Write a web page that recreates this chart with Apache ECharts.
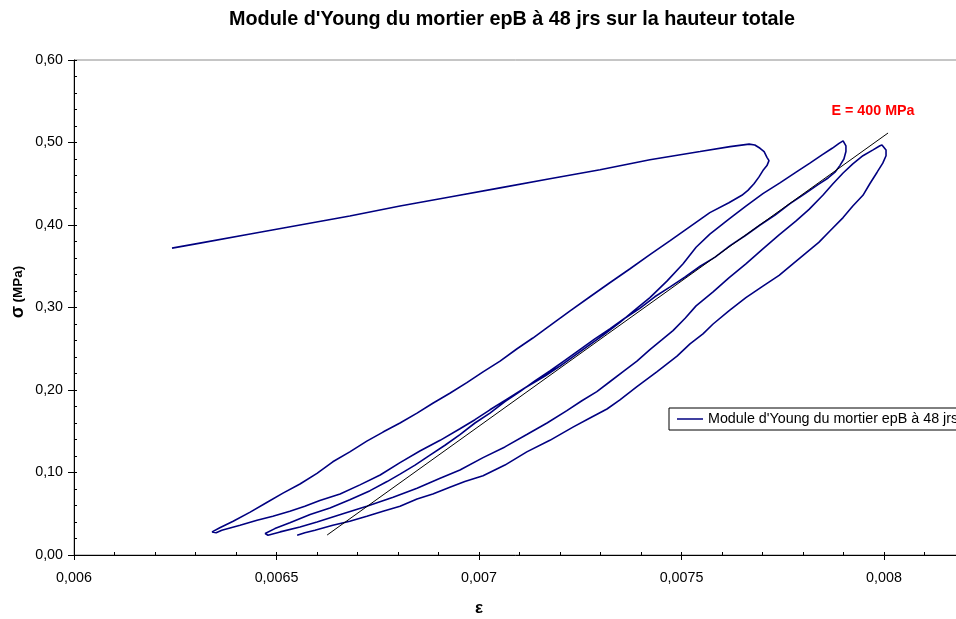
<!DOCTYPE html>
<html>
<head>
<meta charset="utf-8">
<script src="https://cdn.jsdelivr.net/npm/echarts@6/dist/echarts.min.js"></script>
<style>
  html, body { margin: 0; padding: 0; background: #ffffff; }
  #chart { width: 956px; height: 619px; }
</style>
</head>
<body>
<div id="chart"></div>
<script>
// Texts
const chartTitle = "Module d'Young du mortier epB à 48 jrs sur la hauteur totale";
const seriesName = "Module d'Young du mortier epB à 48 jrs";
const modulusLabel = 'E = 400 MPa';
const strainTitle = 'ε';

// Axis ranges and tick steps
const strainMin = 0.006, strainMax = 0.0082, strainStep = 0.0005, strainMinorStep = 0.0001;
const stressMin = 0, stressMax = 0.6, stressStep = 0.1, stressMinorStep = 0.02;

// First loading up to the first peak
const strainLoad1 = [0.006242, 0.006311, 0.006435, 0.006558, 0.006681, 0.006805, 0.006928, 0.007052, 0.007175, 0.007299, 0.007422, 0.007546, 0.007620, 0.007667];
const stressLoad1 = [0.372, 0.378, 0.389, 0.400, 0.411, 0.423, 0.434, 0.445, 0.456, 0.467, 0.479, 0.489, 0.495, 0.498];

// First unloading (with the bulge at the peak)
const strainUnload1 = [0.007681, 0.007694, 0.007704, 0.007711, 0.007716, 0.007711, 0.007701, 0.007691, 0.007679, 0.007664, 0.007649, 0.007617, 0.007570, 0.007521, 0.007472, 0.007422, 0.007373, 0.007323, 0.007274, 0.007225, 0.007175, 0.007133, 0.007094, 0.007052, 0.007010, 0.006970, 0.006928, 0.006886, 0.006847, 0.006805, 0.006763, 0.006723, 0.006681, 0.006639, 0.006600, 0.006558, 0.006516, 0.006477, 0.006435, 0.006393, 0.006360, 0.006341];
const stressUnload1 = [0.497, 0.493, 0.489, 0.482, 0.478, 0.472, 0.466, 0.458, 0.450, 0.442, 0.436, 0.427, 0.415, 0.398, 0.381, 0.364, 0.347, 0.330, 0.313, 0.296, 0.278, 0.263, 0.250, 0.235, 0.222, 0.209, 0.196, 0.184, 0.172, 0.160, 0.149, 0.138, 0.125, 0.113, 0.099, 0.086, 0.075, 0.064, 0.052, 0.041, 0.033, 0.028];

// Second loading
const strainLoad2 = [0.006351, 0.006365, 0.006410, 0.006452, 0.006491, 0.006533, 0.006570, 0.006607, 0.006657, 0.006706, 0.006756, 0.006805, 0.006854, 0.006904, 0.006953, 0.006990, 0.007027, 0.007069, 0.007118, 0.007163, 0.007200, 0.007237, 0.007274, 0.007311, 0.007348, 0.007385, 0.007422, 0.007464, 0.007504, 0.007536, 0.007570, 0.007617, 0.007659, 0.007701, 0.007743, 0.007783, 0.007817, 0.007847, 0.007872, 0.007889, 0.007899];
const stressLoad2 = [0.027, 0.030, 0.036, 0.042, 0.047, 0.053, 0.059, 0.066, 0.074, 0.085, 0.097, 0.112, 0.126, 0.139, 0.153, 0.164, 0.176, 0.189, 0.204, 0.217, 0.229, 0.242, 0.255, 0.268, 0.282, 0.297, 0.312, 0.332, 0.353, 0.373, 0.389, 0.407, 0.423, 0.438, 0.451, 0.464, 0.475, 0.485, 0.493, 0.499, 0.502];

// Second unloading
const strainUnload2 = [0.007906, 0.007906, 0.007901, 0.007891, 0.007879, 0.007862, 0.007837, 0.007805, 0.007768, 0.007731, 0.007694, 0.007657, 0.007620, 0.007583, 0.007546, 0.007509, 0.007472, 0.007434, 0.007397, 0.007360, 0.007323, 0.007286, 0.007249, 0.007212, 0.007175, 0.007138, 0.007101, 0.007064, 0.007027, 0.006990, 0.006953, 0.006916, 0.006879, 0.006842, 0.006805, 0.006773, 0.006731, 0.006681, 0.006632, 0.006583, 0.006533, 0.006496, 0.006472];
const stressUnload2 = [0.496, 0.489, 0.480, 0.472, 0.464, 0.457, 0.449, 0.438, 0.426, 0.412, 0.400, 0.387, 0.375, 0.361, 0.350, 0.337, 0.325, 0.313, 0.299, 0.287, 0.274, 0.262, 0.249, 0.236, 0.223, 0.211, 0.198, 0.186, 0.172, 0.160, 0.146, 0.133, 0.121, 0.109, 0.098, 0.089, 0.078, 0.067, 0.057, 0.049, 0.039, 0.032, 0.026];

// Third loading
const strainLoad3 = [0.006479, 0.006509, 0.006558, 0.006600, 0.006664, 0.006723, 0.006788, 0.006847, 0.006904, 0.006953, 0.007010, 0.007064, 0.007118, 0.007168, 0.007217, 0.007254, 0.007291, 0.007323, 0.007355, 0.007390, 0.007422, 0.007452, 0.007479, 0.007509, 0.007536, 0.007578, 0.007617, 0.007659, 0.007701, 0.007741, 0.007783, 0.007815, 0.007849, 0.007874, 0.007899, 0.007923, 0.007948, 0.007973, 0.007990, 0.007995];
const stressLoad3 = [0.024, 0.028, 0.034, 0.040, 0.050, 0.059, 0.070, 0.081, 0.093, 0.103, 0.118, 0.131, 0.146, 0.160, 0.175, 0.187, 0.198, 0.210, 0.222, 0.235, 0.249, 0.261, 0.272, 0.287, 0.302, 0.319, 0.336, 0.353, 0.371, 0.388, 0.405, 0.419, 0.436, 0.450, 0.463, 0.474, 0.484, 0.491, 0.496, 0.497];

// Third unloading
const strainUnload3 = [0.008005, 0.008005, 0.007997, 0.007983, 0.007965, 0.007948, 0.007923, 0.007899, 0.007867, 0.007839, 0.007807, 0.007775, 0.007741, 0.007701, 0.007659, 0.007617, 0.007578, 0.007553, 0.007521, 0.007489, 0.007439, 0.007390, 0.007348, 0.007316, 0.007274, 0.007232, 0.007175, 0.007118, 0.007064, 0.007010, 0.006965, 0.006928, 0.006886, 0.006847, 0.006805, 0.006763, 0.006723, 0.006681, 0.006639, 0.006595, 0.006570, 0.006551];
const stressUnload3 = [0.491, 0.484, 0.475, 0.464, 0.450, 0.436, 0.423, 0.409, 0.393, 0.379, 0.366, 0.353, 0.339, 0.326, 0.312, 0.296, 0.280, 0.268, 0.256, 0.241, 0.222, 0.204, 0.188, 0.177, 0.166, 0.155, 0.139, 0.125, 0.109, 0.096, 0.089, 0.082, 0.074, 0.068, 0.059, 0.053, 0.047, 0.041, 0.036, 0.030, 0.027, 0.024];

// Linear fit used for the modulus
const strainFit = [0.006625, 0.008010];
const stressFit = [0.0242, 0.5115];

// Build the test path in chronological order
const branches = [
  [strainLoad1, stressLoad1], [strainUnload1, stressUnload1],
  [strainLoad2, stressLoad2], [strainUnload2, stressUnload2],
  [strainLoad3, stressLoad3], [strainUnload3, stressUnload3]
];
const testPath = [];
branches.forEach(([eps, sig]) => eps.forEach((e, i) => testPath.push([e, sig[i]])));
const fitPath = strainFit.map((e, i) => [e, stressFit[i]]);

const FONT = "'Liberation Sans', Arial, sans-serif";
const comma = s => s.replace('.', ',');

const chart = echarts.init(document.getElementById('chart'), null, { renderer: 'canvas' });

const plainAxisBits = {
  axisLine: { show: false },
  axisLabel: { show: false },
  splitLine: { show: false }
};

chart.setOption({
  animation: false,
  backgroundColor: '#ffffff',
  // the plot area runs past the right edge of the page
  grid: {
    left: 74, top: 60, width: 891, height: 495,
    outerBoundsMode: 'none', containLabel: false,
    show: true, borderColor: '#8c8c8c', borderWidth: 1, backgroundColor: 'transparent'
  },
  legend: {
    data: [{ name: seriesName, icon: 'rect' }],
    left: 669, top: 408,
    orient: 'horizontal',
    padding: [4, 12, 4, 8],
    itemWidth: 26, itemHeight: 1.5, itemGap: 5,
    backgroundColor: '#ffffff',
    borderColor: '#000000', borderWidth: 1, borderRadius: 0,
    textStyle: { fontFamily: FONT, fontSize: 14.3, color: '#000000' }
  },
  xAxis: [
    {
      type: 'value', position: 'bottom',
      min: strainMin, max: strainMax, interval: strainStep,
      axisLine: { show: true, onZero: false, lineStyle: { color: '#000000', width: 1 } },
      axisTick: { show: true, inside: false, length: 5, lineStyle: { color: '#000000' } },
      axisLabel: {
        show: true, margin: 16, showMaxLabel: false,
        fontFamily: FONT, fontSize: 14.3, color: '#000000',
        formatter: v => comma(String(+v.toFixed(6)))
      },
      splitLine: { show: false }
    },
    Object.assign({
      type: 'value', position: 'bottom',
      min: strainMin, max: strainMax, interval: strainMinorStep,
      axisTick: { show: true, inside: true, length: 3, lineStyle: { color: '#000000' } }
    }, plainAxisBits)
  ],
  yAxis: [
    {
      type: 'value', position: 'left',
      min: stressMin, max: stressMax, interval: stressStep,
      axisLine: { show: true, onZero: false, lineStyle: { color: '#000000', width: 1 } },
      axisTick: { show: true, inside: false, length: 6, lineStyle: { color: '#000000' } },
      axisLabel: {
        show: true, margin: 11,
        fontFamily: FONT, fontSize: 14.3, color: '#000000',
        formatter: v => comma(v.toFixed(2))
      },
      splitLine: { show: false }
    },
    Object.assign({
      type: 'value', position: 'left',
      min: stressMin, max: stressMax, interval: stressMinorStep,
      axisTick: { show: true, inside: true, length: 3, lineStyle: { color: '#000000' } }
    }, plainAxisBits)
  ],
  series: [
    {
      name: seriesName,
      type: 'line',
      xAxisIndex: 0, yAxisIndex: 0,
      data: testPath,
      symbol: 'none',
      smooth: false,
      lineStyle: { color: '#000080', width: 1.6 },
      itemStyle: { color: '#000080' },
      z: 3
    },
    {
      name: 'fit',
      type: 'line',
      xAxisIndex: 0, yAxisIndex: 0,
      data: fitPath,
      symbol: 'none',
      lineStyle: { color: '#000000', width: 1 },
      z: 4
    }
  ],
  graphic: [
    {
      type: 'text', x: 512, y: 20,
      style: {
        text: chartTitle, align: 'center', verticalAlign: 'middle',
        fontFamily: FONT, fontSize: 19.8, fontWeight: 'bold', fill: '#000000'
      }
    },
    {
      type: 'text', x: 479, y: 608,
      style: {
        text: strainTitle, align: 'center', verticalAlign: 'middle',
        fontFamily: FONT, fontSize: 17, fontWeight: 'bold', fill: '#000000'
      }
    },
    {
      type: 'text', x: 18, y: 292, rotation: Math.PI / 2,
      style: {
        text: '{s|σ} {u|(MPa)}', align: 'center', verticalAlign: 'middle',
        rich: {
          s: { fontFamily: FONT, fontSize: 18, fontWeight: 'bold', fill: '#000000' },
          u: { fontFamily: FONT, fontSize: 13.5, fontWeight: 'bold', fill: '#000000' }
        }
      }
    },
    {
      type: 'text', x: 873, y: 111,
      style: {
        text: modulusLabel, align: 'center', verticalAlign: 'middle',
        fontFamily: FONT, fontSize: 14.3, fontWeight: 'bold', fill: '#ff0000'
      }
    }
  ]
});
</script>
</body>
</html>
